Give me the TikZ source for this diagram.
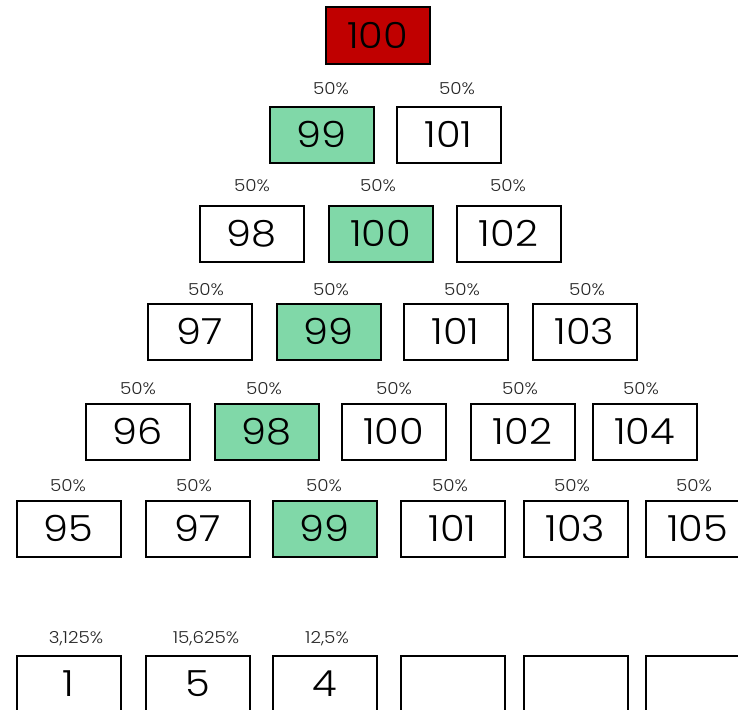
\documentclass[tikz,border=0pt]{standalone}
\usepackage{fontspec}
\setmainfont{Poppins Light}[FakeStretch=1.11]
\definecolor{topred}{HTML}{C00000}
\definecolor{pathgreen}{HTML}{80D8A8}
\begin{document}
\begin{tikzpicture}[x=1pt,y=-1pt,
  cell/.style={draw=black, line width=2pt, minimum width=104pt, minimum height=56pt, inner sep=0pt, font=\fontsize{36}{36}\selectfont},
  hot/.style={cell, fill=topred},
  path/.style={cell, fill=pathgreen},
  pct/.style={font=\fontsize{16.5}{16.5}\selectfont, text=black!85, inner sep=0pt}]
\useasboundingbox (0,0) rectangle (738,709);
% row 0
\node[hot] (r0a) at (377.5,35.5) {100};
% row 1
\node[path] (r1a) at (321.5,134.5) {99};
\node[cell] (r1b) at (448.5,134.5) {101};
\node[pct] (p1a) at (331,89) {50\%};
\node[pct] (p1b) at (457,89) {50\%};
% row 2
\node[cell] (r2a) at (251.5,233.5) {98};
\node[path] (r2b) at (380.5,233.5) {100};
\node[cell] (r2c) at (508.5,233.5) {102};
\node[pct] (p2a) at (252,186) {50\%};
\node[pct] (p2b) at (378,186) {50\%};
\node[pct] (p2c) at (508,186) {50\%};
% row 3
\node[cell] (r3a) at (199.5,331.5) {97};
\node[path] (r3b) at (328.5,331.5) {99};
\node[cell] (r3c) at (455.5,331.5) {101};
\node[cell] (r3d) at (584.5,331.5) {103};
\node[pct] (p3a) at (206,290) {50\%};
\node[pct] (p3b) at (331,290) {50\%};
\node[pct] (p3c) at (462,290) {50\%};
\node[pct] (p3d) at (587,290) {50\%};
% row 4
\node[cell] (r4a) at (137.5,431.5) {96};
\node[path] (r4b) at (266.5,431.5) {98};
\node[cell] (r4c) at (393.5,431.5) {100};
\node[cell] (r4d) at (522.5,431.5) {102};
\node[cell] (r4e) at (644.5,431.5) {104};
\node[pct] (p4a) at (138,389) {50\%};
\node[pct] (p4b) at (264,389) {50\%};
\node[pct] (p4c) at (394,389) {50\%};
\node[pct] (p4d) at (520,389) {50\%};
\node[pct] (p4e) at (641,389) {50\%};
% row 5
\node[cell] (r5a) at (68.5,528.5) {95};
\node[cell] (r5b) at (197.5,528.5) {97};
\node[path] (r5c) at (324.5,528.5) {99};
\node[cell] (r5d) at (452.5,528.5) {101};
\node[cell] (r5e) at (575.5,528.5) {103};
\node[cell] (r5f) at (697.5,528.5) {105};
\node[pct] (p5a) at (68,486) {50\%};
\node[pct] (p5b) at (194,486) {50\%};
\node[pct] (p5c) at (324,486) {50\%};
\node[pct] (p5d) at (450,486) {50\%};
\node[pct] (p5e) at (572,486) {50\%};
\node[pct] (p5f) at (694,486) {50\%};
% row 6 (cut by the lower edge)
\node[cell] (r6a) at (68.5,683.5) {1};
\node[cell] (r6b) at (197.5,683.5) {5};
\node[cell] (r6c) at (324.5,683.5) {4};
\node[cell] (r6d) at (452.5,683.5) {};
\node[cell] (r6e) at (575.5,683.5) {};
\node[cell] (r6f) at (697.5,683.5) {};
\node[pct] (p6a) at (76,639) {3,125\%};
\node[pct] (p6b) at (206,639) {15,625\%};
\node[pct] (p6c) at (327,639) {12,5\%};
\end{tikzpicture}
\end{document}
